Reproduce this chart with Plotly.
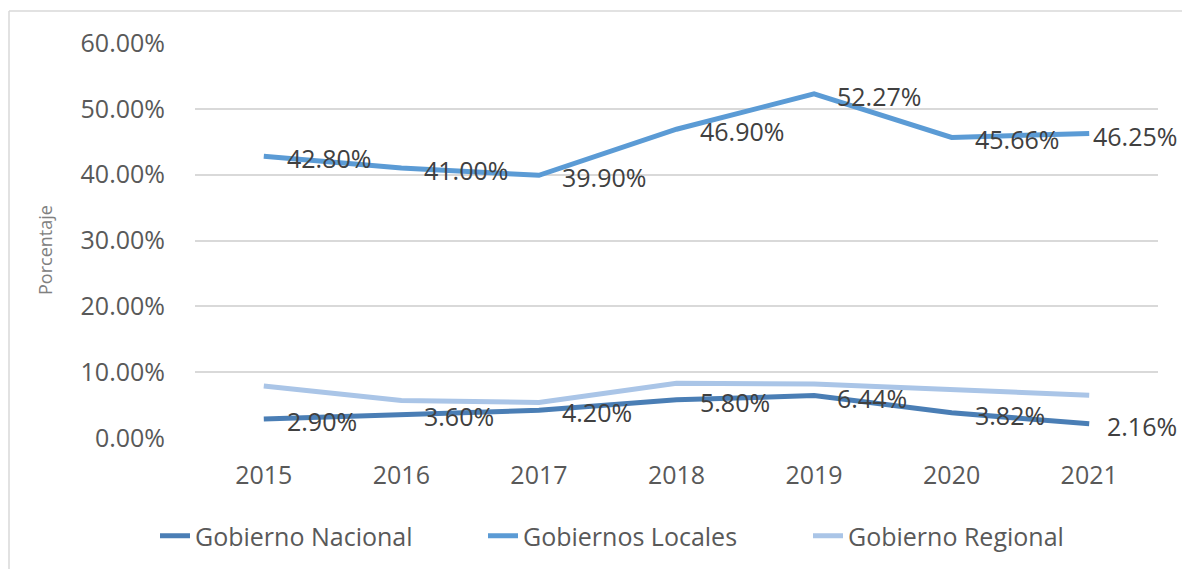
import plotly.graph_objects as go

years = ["2015", "2016", "2017", "2018", "2019", "2020", "2021"]
nacional = [0.029, 0.036, 0.042, 0.058, 0.0644, 0.0382, 0.0216]
locales = [0.428, 0.410, 0.399, 0.469, 0.5227, 0.4566, 0.4625]
regional = [0.079, 0.057, 0.054, 0.083, 0.082, 0.074, 0.065]

c_nac = "#4a7eb5"
c_loc = "#5b9bd5"
c_reg = "#aac5e7"
font = "Open Sans"
fs = 25
W, H = 1182, 569
L, R, T, B = 195, 24, 43, 131
PW, PH = W - L - R, H - T - B


def px(xp):
    return (xp - L) / PW


def py(yp):
    return (H - B - yp) / PH


fig = go.Figure()
fig.add_trace(go.Scatter(
    x=years, y=regional, name="Gobierno Regional", mode="lines",
    line=dict(color=c_reg, width=5), legend="legend3"))
fig.add_trace(go.Scatter(
    x=years, y=nacional, name="Gobierno Nacional", mode="lines",
    line=dict(color=c_nac, width=5), legend="legend"))
fig.add_trace(go.Scatter(
    x=years, y=locales, name="Gobiernos Locales", mode="lines",
    line=dict(color=c_loc, width=5), legend="legend2"))

annotations = []
for series in (nacional, locales):
    n = len(series)
    for i, yv in enumerate(series):
        shift = 21
        if i == n - 1:
            shift = 2 if series is locales else 16
        annotations.append(dict(
            x=i, y=yv, xref="x", yref="y", text=f"{yv*100:.2f}%",
            showarrow=False, xanchor="left", yanchor="middle", xshift=shift, yshift=-2,
            font=dict(family=font, size=fs, color="#404040")))

annotations.append(dict(text="Porcentaje", xref="paper", yref="paper",
                        x=px(45), y=py(250), textangle=-90, showarrow=False,
                        xanchor="center", yanchor="middle",
                        font=dict(family=font, size=18, color="#808080")))


def leg(xpix):
    return dict(orientation="h", xref="container", yref="container",
                x=xpix / W, xanchor="left", y=1 - 536 / H, yanchor="middle",
                bgcolor="rgba(0,0,0,0)", itemwidth=30,
                font=dict(family=font, size=fs, color="#595959"))


fig.update_layout(
    width=W, height=H,
    margin=dict(l=L, r=R, t=T, b=B, autoexpand=False),
    paper_bgcolor="white", plot_bgcolor="white",
    font=dict(family=font, size=fs, color="#595959"),
    showlegend=True,
    legend=leg(155), legend2=leg(483), legend3=leg(808),
    xaxis=dict(type="category", range=[-0.5, 6.5], showgrid=False, showline=False,
               ticks="", ticklabelstandoff=20, tickfont=dict(size=fs, color="#595959")),
    yaxis=dict(range=[0, 0.6], dtick=0.1, tickformat=".2%", showgrid=True,
               gridcolor="#d9d9d9", gridwidth=1.5, zeroline=False, showline=False,
               ticks="", ticklabelstandoff=29, tickfont=dict(size=fs, color="#595959")),
    shapes=[
        dict(type="line", xref="paper", yref="paper", x0=px(9), x1=px(W + 5),
             y0=py(11), y1=py(11), line=dict(color="#d9d9d9", width=1.5), layer="below"),
        dict(type="line", xref="paper", yref="paper", x0=px(9), x1=px(9),
             y0=py(11), y1=py(H + 5), line=dict(color="#d9d9d9", width=1.5), layer="below"),
    ],
    annotations=annotations,
)

fig.write_html("out.html", config={"displayModeBar": False},
               post_script="document.body.style.margin='0';")
